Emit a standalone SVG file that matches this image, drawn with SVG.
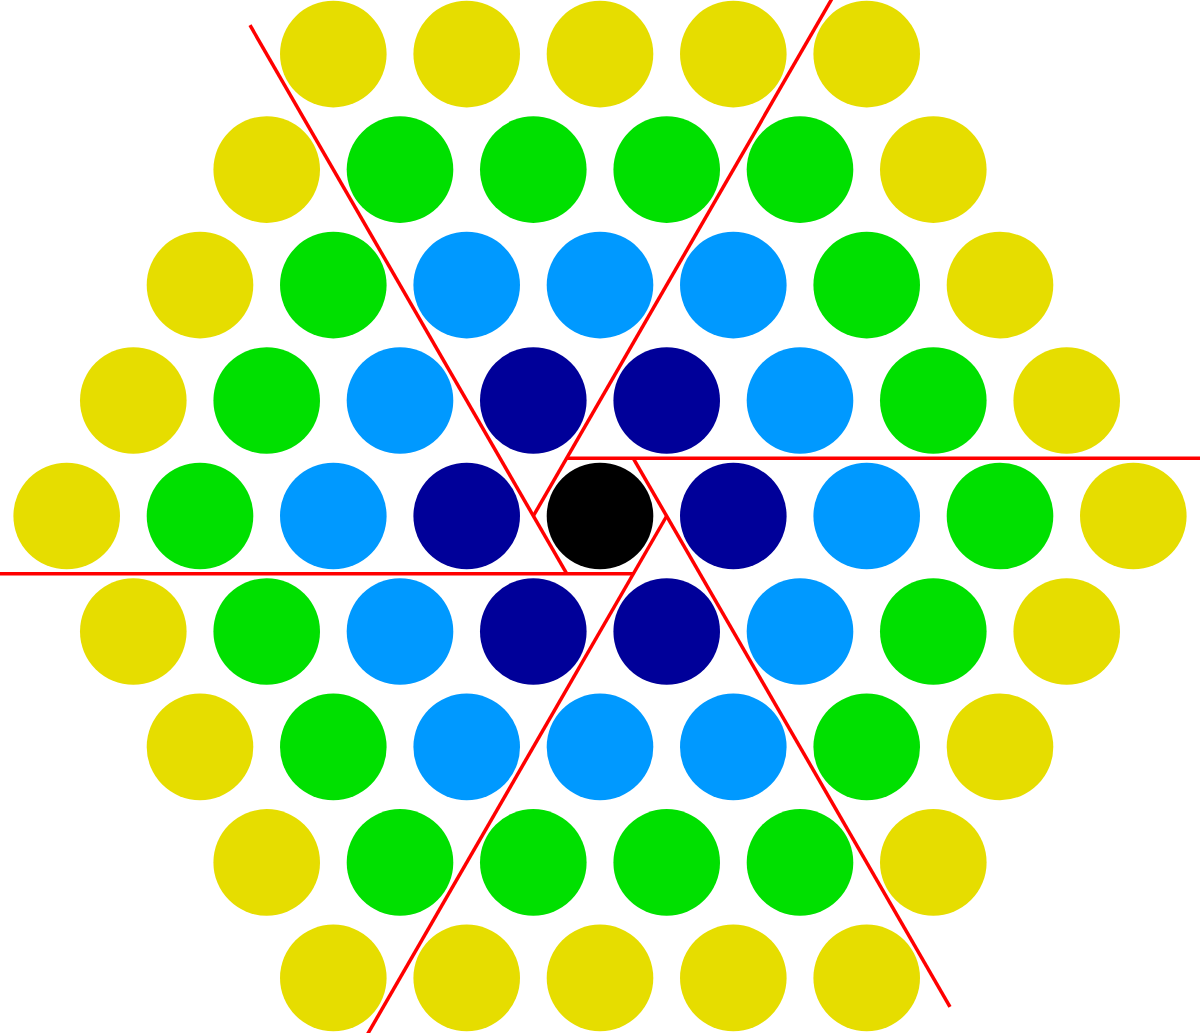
<svg xmlns="http://www.w3.org/2000/svg" width="1200" height="1033" viewBox="0 0 1200 1033">
<style>
.y{fill:#e6dd00}.g{fill:#00e000}.b{fill:#0099ff}.n{fill:#000099}.k{fill:#000000}
.red{stroke:#ff0000;stroke-width:3.5;fill:none}
</style>
<rect width="1200" height="1033" fill="#ffffff"/>
<g id="nodes">
<g id="row-4">
<circle id="c_4_1" class="y" cx="333.3" cy="54.1" r="53.3"/>
<circle id="c_4_2" class="y" cx="466.7" cy="54.1" r="53.3"/>
<circle id="c_4_3" class="y" cx="600" cy="54.1" r="53.3"/>
<circle id="c_4_4" class="y" cx="733.3" cy="54.1" r="53.3"/>
<circle id="c_4_5" class="y" cx="866.7" cy="54.1" r="53.3"/>
</g>
<g id="row-3">
<circle id="c_3_1" class="y" cx="266.7" cy="169.6" r="53.3"/>
<circle id="c_3_2" class="g" cx="400" cy="169.6" r="53.3"/>
<circle id="c_3_3" class="g" cx="533.3" cy="169.6" r="53.3"/>
<circle id="c_3_4" class="g" cx="666.7" cy="169.6" r="53.3"/>
<circle id="c_3_5" class="g" cx="800" cy="169.6" r="53.3"/>
<circle id="c_3_6" class="y" cx="933.3" cy="169.6" r="53.3"/>
</g>
<g id="row-2">
<circle id="c_2_1" class="y" cx="200" cy="285.1" r="53.3"/>
<circle id="c_2_2" class="g" cx="333.3" cy="285.1" r="53.3"/>
<circle id="c_2_3" class="b" cx="466.7" cy="285.1" r="53.3"/>
<circle id="c_2_4" class="b" cx="600" cy="285.1" r="53.3"/>
<circle id="c_2_5" class="b" cx="733.3" cy="285.1" r="53.3"/>
<circle id="c_2_6" class="g" cx="866.7" cy="285.1" r="53.3"/>
<circle id="c_2_7" class="y" cx="1000" cy="285.1" r="53.3"/>
</g>
<g id="row-1">
<circle id="c_1_1" class="y" cx="133.3" cy="400.5" r="53.3"/>
<circle id="c_1_2" class="g" cx="266.7" cy="400.5" r="53.3"/>
<circle id="c_1_3" class="b" cx="400" cy="400.5" r="53.3"/>
<circle id="c_1_4" class="n" cx="533.3" cy="400.5" r="53.3"/>
<circle id="c_1_5" class="n" cx="666.7" cy="400.5" r="53.3"/>
<circle id="c_1_6" class="b" cx="800" cy="400.5" r="53.3"/>
<circle id="c_1_7" class="g" cx="933.3" cy="400.5" r="53.3"/>
<circle id="c_1_8" class="y" cx="1066.7" cy="400.5" r="53.3"/>
</g>
<g id="row0">
<circle id="c0_1" class="y" cx="66.7" cy="516" r="53.3"/>
<circle id="c0_2" class="g" cx="200" cy="516" r="53.3"/>
<circle id="c0_3" class="b" cx="333.3" cy="516" r="53.3"/>
<circle id="c0_4" class="n" cx="466.7" cy="516" r="53.3"/>
<circle id="c0_5" class="k" cx="600" cy="516" r="53.3"/>
<circle id="c0_6" class="n" cx="733.3" cy="516" r="53.3"/>
<circle id="c0_7" class="b" cx="866.7" cy="516" r="53.3"/>
<circle id="c0_8" class="g" cx="1000" cy="516" r="53.3"/>
<circle id="c0_9" class="y" cx="1133.3" cy="516" r="53.3"/>
</g>
<g id="row1">
<circle id="c1_1" class="y" cx="133.3" cy="631.5" r="53.3"/>
<circle id="c1_2" class="g" cx="266.7" cy="631.5" r="53.3"/>
<circle id="c1_3" class="b" cx="400" cy="631.5" r="53.3"/>
<circle id="c1_4" class="n" cx="533.3" cy="631.5" r="53.3"/>
<circle id="c1_5" class="n" cx="666.7" cy="631.5" r="53.3"/>
<circle id="c1_6" class="b" cx="800" cy="631.5" r="53.3"/>
<circle id="c1_7" class="g" cx="933.3" cy="631.5" r="53.3"/>
<circle id="c1_8" class="y" cx="1066.7" cy="631.5" r="53.3"/>
</g>
<g id="row2">
<circle id="c2_1" class="y" cx="200" cy="746.9" r="53.3"/>
<circle id="c2_2" class="g" cx="333.3" cy="746.9" r="53.3"/>
<circle id="c2_3" class="b" cx="466.7" cy="746.9" r="53.3"/>
<circle id="c2_4" class="b" cx="600" cy="746.9" r="53.3"/>
<circle id="c2_5" class="b" cx="733.3" cy="746.9" r="53.3"/>
<circle id="c2_6" class="g" cx="866.7" cy="746.9" r="53.3"/>
<circle id="c2_7" class="y" cx="1000" cy="746.9" r="53.3"/>
</g>
<g id="row3">
<circle id="c3_1" class="y" cx="266.7" cy="862.4" r="53.3"/>
<circle id="c3_2" class="g" cx="400" cy="862.4" r="53.3"/>
<circle id="c3_3" class="g" cx="533.3" cy="862.4" r="53.3"/>
<circle id="c3_4" class="g" cx="666.7" cy="862.4" r="53.3"/>
<circle id="c3_5" class="g" cx="800" cy="862.4" r="53.3"/>
<circle id="c3_6" class="y" cx="933.3" cy="862.4" r="53.3"/>
</g>
<g id="row4">
<circle id="c4_1" class="y" cx="333.3" cy="977.9" r="53.3"/>
<circle id="c4_2" class="y" cx="466.7" cy="977.9" r="53.3"/>
<circle id="c4_3" class="y" cx="600" cy="977.9" r="53.3"/>
<circle id="c4_4" class="y" cx="733.3" cy="977.9" r="53.3"/>
<circle id="c4_5" class="y" cx="866.7" cy="977.9" r="53.3"/>
</g>
</g>
<g id="connectors" class="red">
<line x1="250" y1="25.2" x2="566.7" y2="573.7"/>
<line x1="0" y1="573.7" x2="633.3" y2="573.7"/>
<line x1="666.7" y1="516" x2="346" y2="1071.5"/>
<line x1="533.3" y1="516" x2="854" y2="-39.5"/>
<line x1="566.7" y1="458.3" x2="1200" y2="458.3"/>
<line x1="633.3" y1="458.3" x2="950" y2="1006.8"/>
</g>
</svg>
